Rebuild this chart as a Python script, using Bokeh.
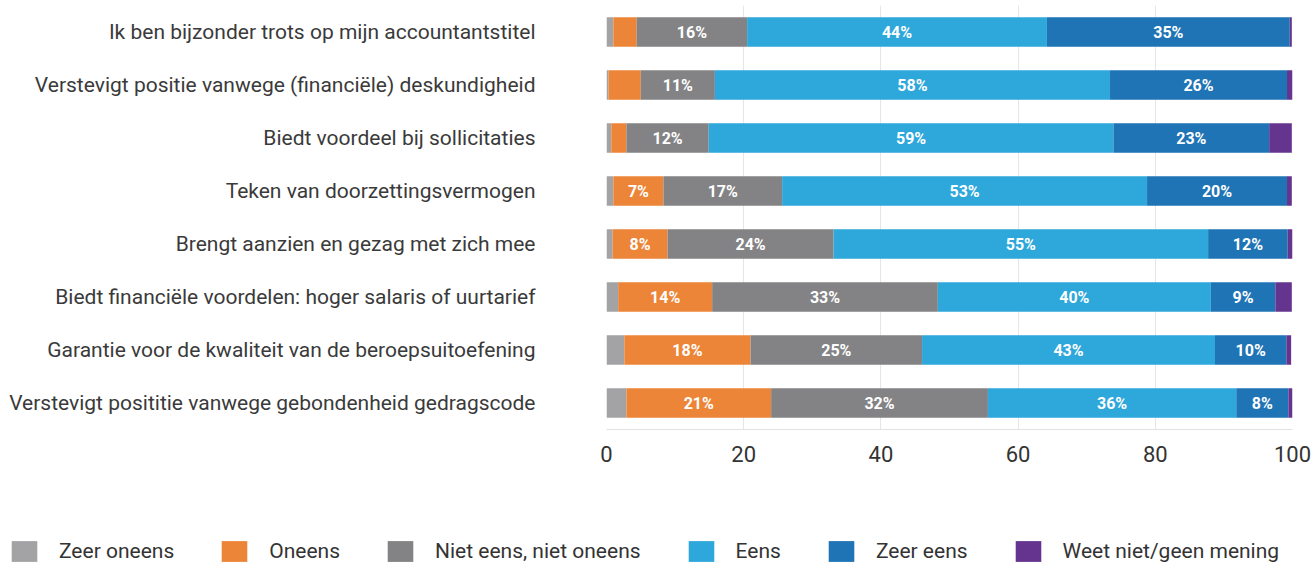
from bokeh.plotting import figure
from bokeh.models import ColumnDataSource, FactorRange, Legend, LegendItem, LabelSet, FixedTicker, Range1d
from bokeh.layouts import column, row
from bokeh.core.properties import value
from bokeh.embed import file_html
from bokeh.resources import INLINE

statements = [
    "Ik ben bijzonder trots op mijn accountantstitel",
    "Verstevigt positie vanwege (financiële) deskundigheid",
    "Biedt voordeel bij sollicitaties",
    "Teken van doorzettingsvermogen",
    "Brengt aanzien en gezag met zich mee",
    "Biedt financiële voordelen: hoger salaris of uurtarief",
    "Garantie voor de kwaliteit van de beroepsuitoefening",
    "Verstevigt posititie vanwege gebondenheid gedragscode",
]
series = ["Zeer oneens", "Oneens", "Niet eens, niet oneens", "Eens", "Zeer eens", "Weet niet/geen mening"]
colors = ["#a3a3a5", "#ec8538", "#838385", "#2ea7db", "#1f74b5", "#65348f"]

zeer_oneens = [1.0, 0.3, 0.7, 1.0, 0.9, 1.7, 2.6, 2.9]
oneens = [3.4, 4.7, 2.2, 7.3, 8.0, 13.7, 18.4, 21.1]
niet_eens = [16.1, 10.8, 12.0, 17.3, 24.2, 32.9, 25.0, 31.6]
eens = [43.7, 57.6, 59.0, 53.2, 54.6, 39.8, 42.7, 36.2]
zeer_eens = [35.4, 25.8, 22.7, 20.4, 11.6, 9.4, 10.4, 7.6]
weet_niet = [0.3, 0.8, 3.3, 0.7, 0.9, 2.4, 0.7, 0.7]
x_ticks = [0, 20, 40, 60, 80, 100]

values = [zeer_oneens, oneens, niet_eens, eens, zeer_eens, weet_niet]
factors = list(reversed(statements))

p = figure(width=1313, height=520, y_range=FactorRange(factors=factors),
           x_range=(0, 100), output_backend="svg", toolbar_location=None,
           min_border_left=606, min_border_right=21, min_border_top=5,
           min_border_bottom=91)
p.outline_line_color = None
p.background_fill_color = "white"

# legend strip below the chart; it shares the bar sources but shows none of them
lg = figure(width=1313, height=44, x_range=Range1d(-1001, -1000),
            y_range=FactorRange(factors=factors),
            output_backend="svg", toolbar_location=None,
            min_border_left=0, min_border_right=0, min_border_top=0, min_border_bottom=0)
lg.axis.visible = False
lg.grid.grid_line_color = None
lg.outline_line_color = None

cum = [0.0] * len(statements)
lbl_x, lbl_y, lbl_t = [], [], []
items = []
for name, vals, col in zip(series, values, colors):
    left = cum[:]
    right = [l + v for l, v in zip(left, vals)]
    src = ColumnDataSource(dict(y=statements, left=left, right=right))
    p.hbar(y="y", left="left", right="right", height=0.56, source=src,
           fill_color=col, line_color=None)
    r = lg.hbar(y="y", left="left", right="right", height=0.56, source=src,
                fill_color=col, line_color=None)
    items.append(LegendItem(label=name, renderers=[r]))
    for s, l, v in zip(statements, left, vals):
        if v >= 6.5:
            lbl_x.append(l + v / 2)
            lbl_y.append(s)
            lbl_t.append(f"{round(v)}%")
    cum = right

lsrc = ColumnDataSource(dict(x=lbl_x, y=lbl_y, t=lbl_t))
p.add_layout(LabelSet(x="x", y="y", text="t", source=lsrc, text_align="center",
                      text_baseline="middle", text_color="white", text_font_size="16px",
                      text_font_style="bold", text_font=value("Roboto")))

p.xaxis.ticker = FixedTicker(ticks=x_ticks)
p.xaxis.major_tick_line_color = None
p.xaxis.minor_tick_line_color = None
p.xaxis.axis_line_color = "#e2e2e2"
p.xaxis.major_label_text_font_size = "22px"
p.xaxis.major_label_text_font = "Roboto"
p.xaxis.major_label_text_color = "#333333"
p.xaxis.major_label_standoff = 10

p.yaxis.axis_line_color = None
p.yaxis.major_tick_line_color = None
p.yaxis.minor_tick_line_color = None
p.yaxis.major_label_text_font_size = "21px"
p.yaxis.major_label_text_font = "Roboto"
p.yaxis.major_label_text_color = "#3a3a3a"
p.yaxis.major_label_standoff = 65

p.ygrid.grid_line_color = None
p.xgrid.grid_line_color = "#e6e6e6"
p.xgrid.ticker = FixedTicker(ticks=x_ticks)

legend = Legend(items=items, orientation="horizontal", location=(8, 0),
                glyph_width=32, glyph_height=26, label_text_font_size="21px",
                label_text_font="Roboto", label_text_color="#333333",
                label_standoff=19, spacing=44, padding=0, margin=0,
                border_line_color=None, background_fill_alpha=0)
lg.add_layout(legend, "center")

layout = column(p, row(lg), spacing=0)
open("out.html", "w").write(file_html(layout, INLINE))
